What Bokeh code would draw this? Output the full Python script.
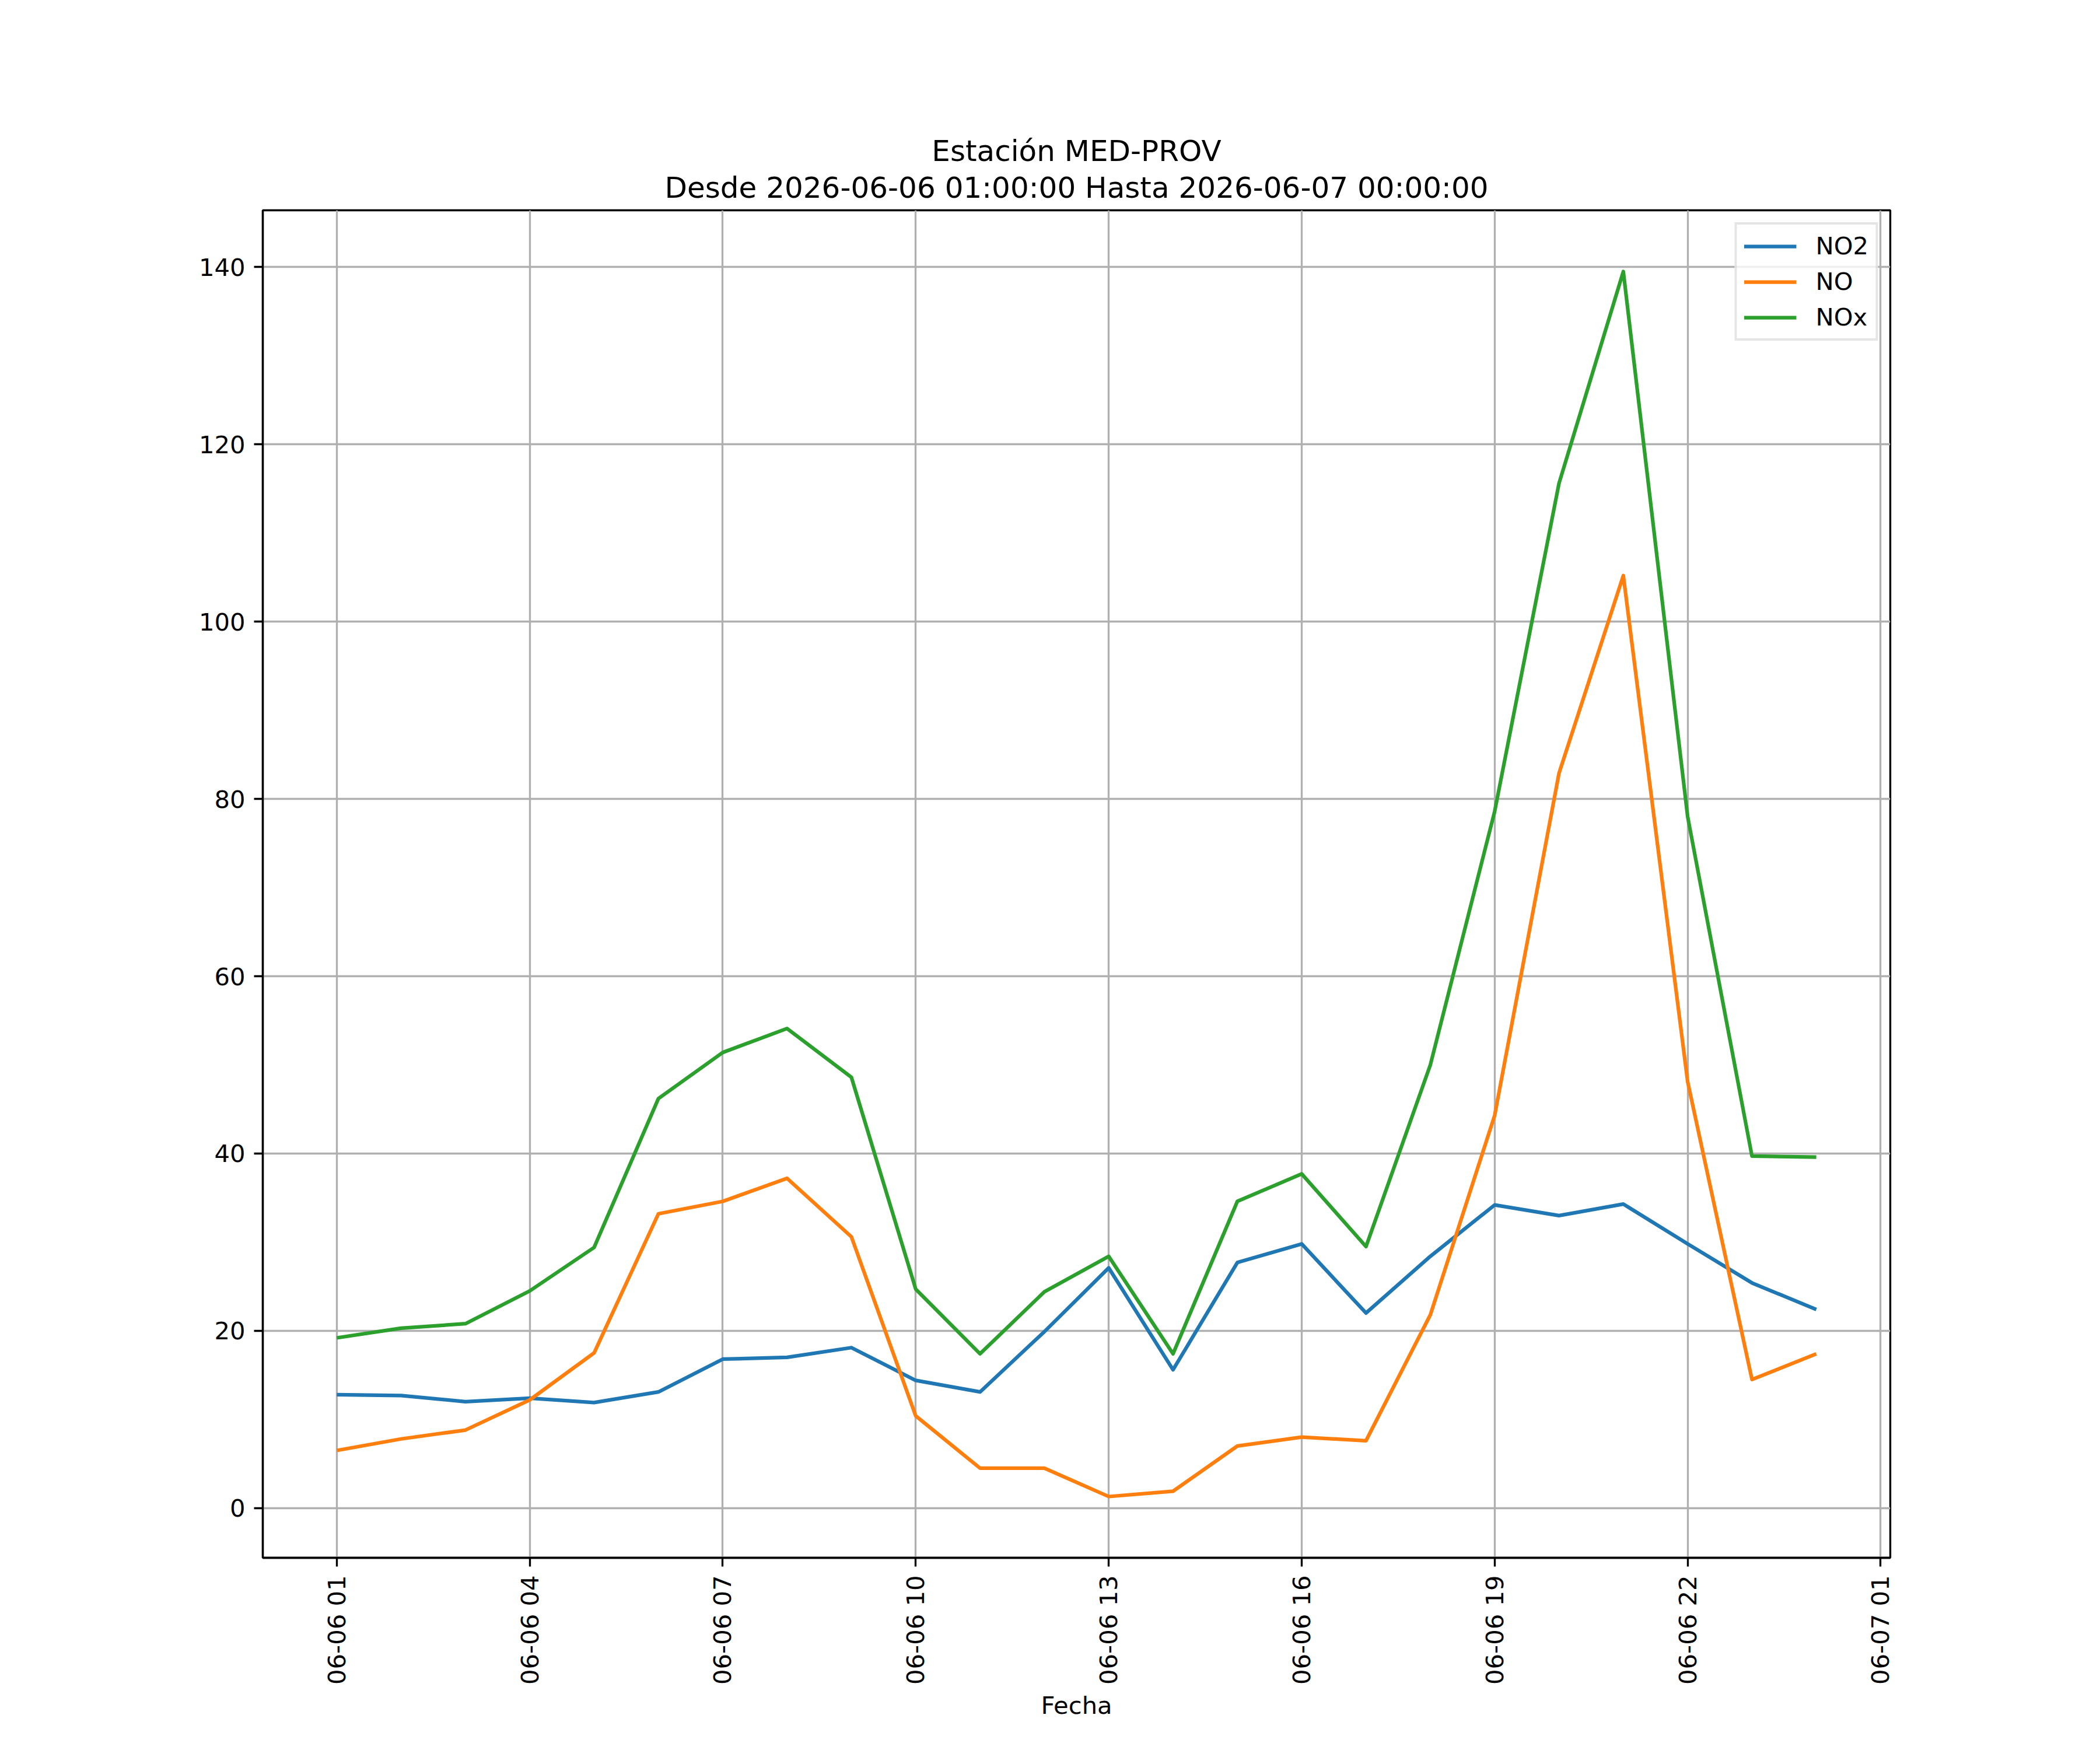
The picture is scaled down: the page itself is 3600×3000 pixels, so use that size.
import math
from bokeh.plotting import figure
from bokeh.models import Range1d, FixedTicker, Title, Legend, LegendItem
from bokeh.embed import file_html
from bokeh.resources import INLINE

# horas desde 2026-06-06 00:00 (01:00 ... 24:00 = 06-07 00:00)
horas = list(range(1, 25))
no2 = [12.8, 12.7, 12.0, 12.4, 11.9, 13.1, 16.8, 17.0, 18.1, 14.4, 13.1, 19.9,
       27.1, 15.6, 27.7, 29.8, 22.0, 28.4, 34.2, 33.0, 34.3, 29.8, 25.4, 22.4]
no = [6.5, 7.8, 8.8, 12.2, 17.5, 33.2, 34.6, 37.2, 30.6, 10.4, 4.5, 4.5,
      1.3, 1.9, 7.0, 8.0, 7.6, 21.8, 44.3, 82.9, 105.2, 48.1, 14.5, 17.4]
nox = [19.2, 20.3, 20.8, 24.5, 29.4, 46.2, 51.4, 54.1, 48.6, 24.7, 17.4, 24.4,
       28.4, 17.4, 34.6, 37.7, 29.5, 50.0, 78.6, 115.6, 139.5, 78.0, 39.7, 39.6]

x_ticks = [1, 4, 7, 10, 13, 16, 19, 22, 25]
x_labels = ["06-06 01", "06-06 04", "06-06 07", "06-06 10", "06-06 13",
            "06-06 16", "06-06 19", "06-06 22", "06-07 01"]
y_ticks = [0, 20, 40, 60, 80, 100, 120, 140]

series = [("NO2", no2, "#1f77b4"), ("NO", no, "#ff7f0e"), ("NOx", nox, "#2ca02c")]

FONT = "DejaVu Sans"
LW = 3.33  # 0.8pt a 300 dpi

# margenes de 5% como matplotlib
xspan = horas[-1] - horas[0]
x0, x1 = horas[0] - 0.05 * xspan, horas[-1] + 0.05 * xspan
allv = no2 + no + nox
yspan = max(allv) - min(allv)
y0, y1 = min(allv) - 0.05 * yspan, max(allv) + 0.05 * yspan

p = figure(frame_width=2790, frame_height=2310,
           min_border_left=450, min_border_right=344,
           min_border_top=360, min_border_bottom=314,
           x_range=Range1d(x0, x1), y_range=Range1d(y0, y1),
           output_backend="svg", toolbar_location=None)
p.title.visible = False

p.add_layout(Title(text="Desde 2026-06-06 01:00:00 Hasta 2026-06-07 00:00:00",
                   align="center", text_font=FONT, text_font_size="50px",
                   text_font_style="normal", text_color="black",
                   standoff=19), "above")
p.add_layout(Title(text="Estación MED-PROV", align="center", text_font=FONT,
                   text_font_size="50px", text_font_style="normal",
                   text_color="black", standoff=-12), "above")

items = []
for name, vals, color in series:
    r = p.line(horas, vals, line_color=color, line_width=6.25, line_join="round")
    items.append(LegendItem(label=name, renderers=[r]))

legend = Legend(items=items, location="top_right", margin=21, padding=12,
                spacing=12, glyph_width=90, glyph_height=42, label_height=42,
                label_standoff=33, label_text_font=FONT,
                label_text_font_size="41.7px", label_text_color="black",
                border_line_color="#cccccc", border_line_width=4,
                background_fill_color="white", background_fill_alpha=0.8)
p.add_layout(legend)

p.xaxis.ticker = FixedTicker(ticks=x_ticks)
p.xaxis.major_label_overrides = dict(zip(x_ticks, x_labels))
p.xaxis.major_label_orientation = math.pi / 2
p.yaxis.ticker = FixedTicker(ticks=y_ticks)
p.xaxis.axis_label = "Fecha"
p.xaxis.axis_label_text_font = FONT
p.xaxis.axis_label_text_font_size = "41.7px"
p.xaxis.axis_label_text_font_style = "normal"
p.xaxis.axis_label_text_color = "black"
p.xaxis.axis_label_standoff = 8

for ax in (p.xaxis, p.yaxis):
    ax.axis_line_width = LW
    ax.axis_line_color = "black"
    ax.major_tick_line_width = LW
    ax.major_tick_line_color = "black"
    ax.major_tick_out = 15
    ax.major_tick_in = 0
    ax.minor_tick_line_color = None
    ax.major_label_text_font = FONT
    ax.major_label_text_font_size = "41.7px"
    ax.major_label_text_color = "black"
    ax.major_label_standoff = 15

p.outline_line_color = "black"
p.outline_line_width = LW
p.outline_line_alpha = 1.0
p.grid.grid_line_color = "#b0b0b0"
p.grid.grid_line_width = LW
p.background_fill_color = "white"
p.border_fill_color = "white"

open("out.html", "w").write(file_html(p, INLINE))
